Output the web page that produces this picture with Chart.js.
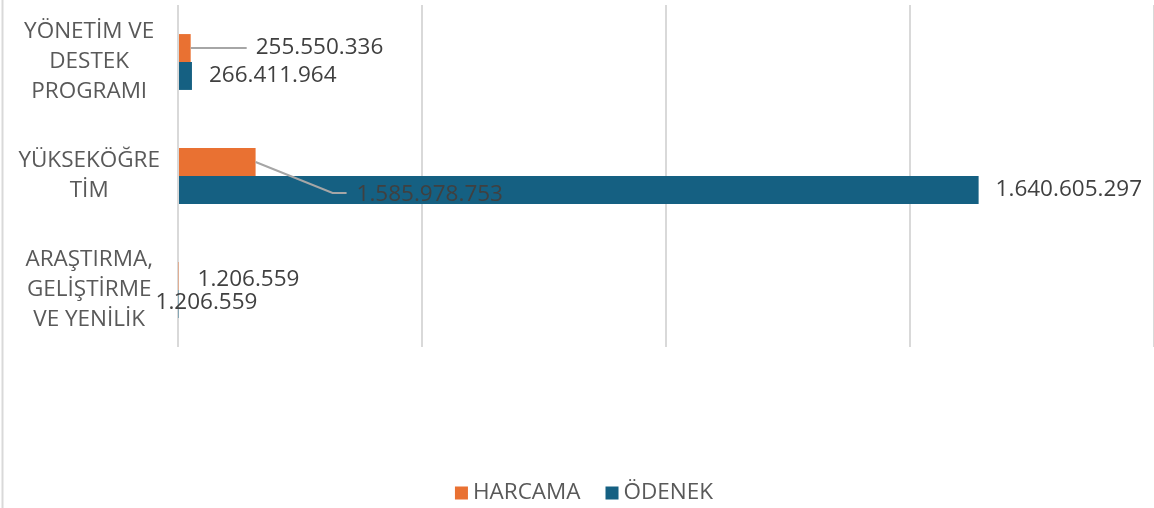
<!DOCTYPE html>
<html><head><meta charset="utf-8">
<script src="https://cdn.jsdelivr.net/npm/chart.js@4/dist/chart.umd.min.js"></script>
<style>html,body{margin:0;padding:0;background:#fff;} #wrap{position:relative;width:1154px;height:508px;} canvas{display:block}</style>
</head><body><div id="wrap"><canvas id="c" width="1154" height="508"></canvas></div>
<script>
const categories = [["YÖNETİM VE","DESTEK","PROGRAMI"],["YÜKSEKÖĞRE","TİM"],["ARAŞTIRMA,","GELİŞTİRME","VE YENİLİK"]];
const seriesNames = ["HARCAMA","ÖDENEK"];
const harcama = [26000000, 159000000, 1206559];
const odenek = [28600000, 1640605297, 1206559];
const harcamaLabels = ["255.550.336","1.585.978.753","1.206.559"];
const odenekLabels = ["266.411.964","1.640.605.297","1.206.559"];
const xTicks = [0, 500000000, 1000000000, 1500000000, 2000000000];

const FONT = "'Open Sans', sans-serif";

const labelPlacement = [
  [ {dx:65, dy:0, leader:[[0,0],[56,0]]}, {dx:101, dy:33, leader:[[0,0],[77,31],[91,31]]}, {dx:19, dy:4} ],
  [ {dx:17, dy:0}, {dx:17, dy:0}, {dx:-23, dy:-1} ]
];

const valueLabels = {
  id: 'valueLabels',
  afterDatasetsDraw(chart) {
    const ctx = chart.ctx;
    const texts = [harcamaLabels, odenekLabels];
    ctx.save();
    ctx.font = "22.5px " + FONT;
    ctx.textBaseline = 'middle';
    ctx.textAlign = 'left';
    chart.data.datasets.forEach((ds, di) => {
      const meta = chart.getDatasetMeta(di);
      meta.data.forEach((el, i) => {
        const p = labelPlacement[di][i];
        const bx = el.x, by = el.y;
        if (p.leader) {
          ctx.strokeStyle = '#a6a6a6';
          ctx.lineWidth = 2;
          ctx.beginPath();
          p.leader.forEach((pt, k) => {
            if (k === 0) ctx.moveTo(bx + pt[0], by + pt[1]);
            else ctx.lineTo(bx + pt[0], by + pt[1]);
          });
          ctx.stroke();
        }
        ctx.fillStyle = '#404040';
        ctx.fillText(texts[di][i], bx + p.dx, by + p.dy);
      });
    });
    ctx.restore();
  }
};

const customLegend = {
  id: 'customLegend',
  afterDraw(chart) {
    const ctx = chart.ctx;
    ctx.save();
    ctx.font = "22.5px " + FONT;
    ctx.textBaseline = 'middle';
    ctx.textAlign = 'left';
    const box = 13, gap = 5, itemGap = 25;
    const items = chart.data.datasets.map(ds => ({text: ds.label, color: ds.backgroundColor, w: ctx.measureText(ds.label).width}));
    let total = items.reduce((s, it) => s + box + gap + it.w, 0) + itemGap * (items.length - 1);
    let x = 584 - total / 2;
    const y = 493;
    items.forEach(it => {
      ctx.fillStyle = it.color;
      ctx.fillRect(x, y - box / 2, box, box);
      ctx.fillStyle = '#595959';
      ctx.fillText(it.text, x + box + gap, y);
      x += box + gap + it.w + itemGap;
    });
    // left frame line
    ctx.strokeStyle = '#d9d9d9';
    ctx.lineWidth = 2;
    ctx.beginPath();
    ctx.moveTo(2.5, 0);
    ctx.lineTo(2.5, 508);
    ctx.stroke();
    ctx.restore();
  }
};

new Chart(document.getElementById('c'), {
  type: 'bar',
  data: {
    labels: categories,
    datasets: [
      {label: seriesNames[0], data: harcama, backgroundColor: '#e97132', borderWidth: 0},
      {label: seriesNames[1], data: odenek, backgroundColor: '#156082', borderWidth: 0}
    ]
  },
  options: {
    indexAxis: 'y',
    responsive: false,
    animation: false,
    devicePixelRatio: 1,
    layout: {padding: {top: 5, bottom: 161, left: 0, right: -3}},
    plugins: {legend: {display: false}, tooltip: {enabled: false}},
    datasets: {bar: {categoryPercentage: 0.49, barPercentage: 1}},
    scales: {
      x: {
        min: 0, max: 2000000000,
        afterBuildTicks(scale) { scale.ticks = xTicks.map(v => ({value: v})); },
        ticks: {display: false},
        grid: {color: '#d9d9d9', lineWidth: 2, drawTicks: false},
        border: {display: false}
      },
      y: {
        afterFit(scale) { scale.width = 178; scale.paddingTop = 0; scale.paddingBottom = 0; },
        ticks: {crossAlign: 'center', padding: 18, color: '#595959', font: {family: FONT, size: 22.5, lineHeight: 1.33}},
        grid: {display: false, drawTicks: false},
        border: {display: false}
      }
    }
  },
  plugins: [valueLabels, customLegend]
});
</script>
</body></html>
